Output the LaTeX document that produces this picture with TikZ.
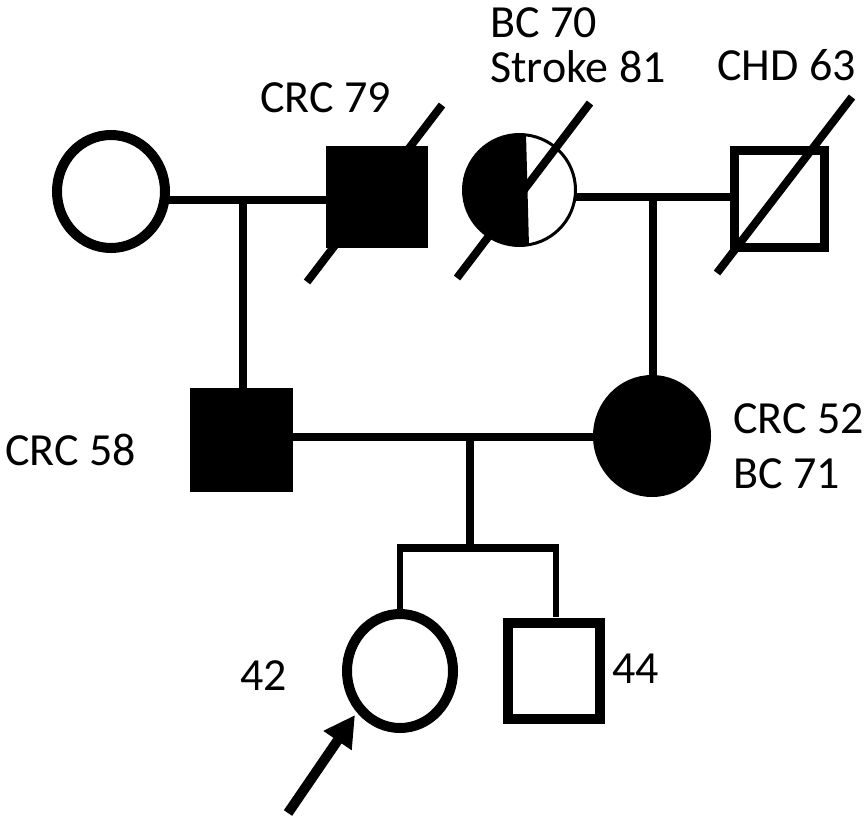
\documentclass[tikz,border=0pt]{standalone}
\usepackage{fontspec}
\setmainfont{Carlito}
\usetikzlibrary{shapes.geometric,arrows.meta}
\begin{document}
\begin{tikzpicture}[x=1pt,y=-1pt,
  lbl/.style={anchor=base west,inner sep=0pt,font=\fontsize{46}{46}\selectfont},
  pers/.style={inner sep=0pt,outer sep=0pt,draw=black},
  femo/.style={pers,ellipse,line width=10pt},
  maleo/.style={pers,rectangle,line width=9.5pt},
  aff/.style={pers,fill=black,line width=2pt},
  conn/.style={line width=7.5pt},
  desc/.style={line width=6pt},
  slash/.style={line width=8pt}]
\useasboundingbox (0,0) rectangle (866,817);
% helper coordinates for line heights
\coordinate (y200) at (0,200);
\coordinate (y197) at (0,197);
\coordinate (y437) at (0,437);
\coordinate (y548) at (0,548);
% generation I
\node[femo,minimum width=108pt,minimum height=113pt] (gm1) at (111,191.5) {};
\node[aff,rectangle,minimum width=100pt,minimum height=100pt] (gf1) at (377,197) {};
\begin{scope}
  \clip (519.5,190) ellipse [x radius=56, y radius=55.5];
  \fill (450,100) -- (525.1,100) -- (529.9,280) -- (450,280) -- cycle;
\end{scope}
\node[pers,ellipse,line width=3pt,minimum width=112pt,minimum height=111pt] (gm2) at (519.5,190) {};
\node[maleo,minimum width=90pt,minimum height=97pt] (gf2) at (779.5,199) {};
% generation II
\node[aff,rectangle,minimum width=101pt,minimum height=102pt] (f) at (241.5,440) {};
\node[aff,ellipse,minimum width=116pt,minimum height=120pt] (m) at (652,436) {};
% generation III
\node[femo,minimum width=106pt,minimum height=114pt] (p) at (400,671) {};
\node[maleo,minimum width=92pt,minimum height=96pt] (b) at (554,671) {};
% deceased slashes
\coordinate (s1a) at (442,105); \coordinate (s1b) at (307,282);
\coordinate (s2a) at (590,103); \coordinate (s2b) at (457,278);
\coordinate (s3a) at (852,97);  \coordinate (s3b) at (717,273);
\draw[slash] (s1a) -- (s1b);
\draw[slash] (s2a) -- (s2b);
\draw[slash] (s3a) -- (s3b);
% connectors
\draw[conn] (gm1.east |- y200) -- (gf1.west |- y200);
\coordinate (d1) at (243,200);
\draw[conn] (d1) -- (d1 |- f.north);
\draw[conn] (gm2.east |- y197) -- (gf2.west |- y197);
\coordinate (d2) at (653,197);
\draw[conn] (d2) -- (d2 |- m.north);
\draw[conn] (f.east |- y437) -- (m.west |- y437);
\coordinate (d3) at (470,437);
\draw[conn] (d3) -- (d3 |- y548);
\coordinate (sl) at (400,548);
\coordinate (sr) at (556,548);
\draw[conn] ([xshift=-3pt]sl) -- ([xshift=3pt]sr);
\draw[desc] (sl) -- (sl |- p.north);
\draw[desc] (sr) -- (556,617);
% proband arrow
\coordinate (atail) at (288,813);
\coordinate (atip) at (355,715);
\draw[line width=10pt,-{Triangle[length=31pt,width=32pt]}] (atail) -- (atip);
% labels
\node[lbl] (t1) at (490,37) {BC 70};
\node[lbl] (t2) at (490,82) {Stroke 81};
\node[lbl] (t3) at (717,80) {CHD 63};
\node[lbl] (t4) at (260,112) {CRC 79};
\node[lbl] (t5) at (5,465) {CRC 58};
\node[lbl] (t6) at (733,433) {CRC 52};
\node[lbl] (t7) at (733,488) {BC 71};
\node[lbl] (t8) at (240,690) {42};
\node[lbl] (t9) at (612,683) {44};
\end{tikzpicture}
\end{document}
